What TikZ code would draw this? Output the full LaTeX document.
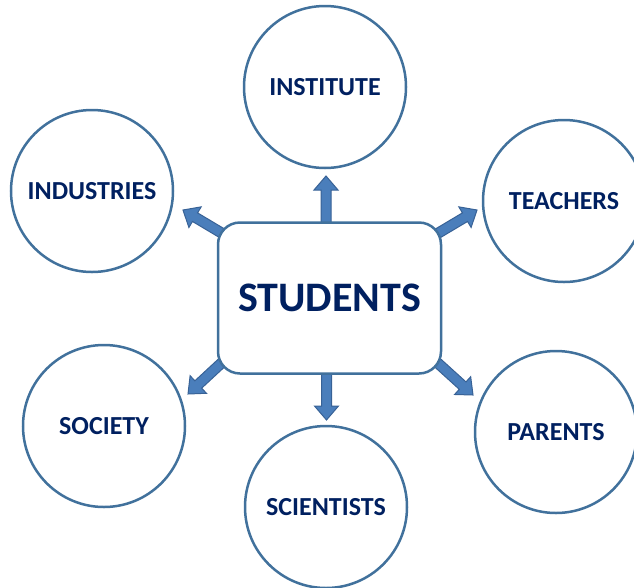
\documentclass[tikz,border=0pt]{standalone}
\usepackage{fontspec}
\setmainfont{Carlito}
\usetikzlibrary{calc,backgrounds}
\definecolor{edge}{RGB}{65,113,156}
\definecolor{ink}{RGB}{0,32,96}
\definecolor{arrfill}{RGB}{74,126,187}
\definecolor{arrline}{RGB}{56,98,150}
\tikzset{
  bubble/.style={circle, draw=edge, line width=2.5pt, fill=white, minimum size=162pt, inner sep=0pt,
    text=ink, font=\bfseries\fontsize{26}{30}\selectfont},
  hub/.style={rectangle, rounded corners=22pt, draw=edge, line width=2.5pt, fill=white,
    minimum width=223pt, minimum height=151pt, text=ink, font=\bfseries\fontsize{42}{46}\selectfont},
  blockarr/.style={draw=arrline, fill=arrfill, line width=1pt, line join=miter}
}
\newcommand\blockarrow[2]{%
  \coordinate (h) at ($(#2)!14pt!(#1)$);
  \draw[blockarr] ($(#1)!5pt!90:(#2)$) -- ($(h)!5pt!-90:(#1)$) -- ($(h)!12pt!-90:(#1)$) -- (#2)
    -- ($(h)!12pt!90:(#1)$) -- ($(h)!5pt!90:(#1)$) -- ($(#1)!5pt!-90:(#2)$) -- cycle;}
\begin{document}
\begin{tikzpicture}[x=1pt,y=-1pt]
\useasboundingbox (0,0) rectangle (634,587);
\clip (0,0) rectangle (634,587);
\node[hub] (stu) at (329.5,298) {STUDENTS};
\node[bubble] (inst) at (325,87) {INSTITUTE};
\node[bubble] (ind) at (92,191) {INDUSTRIES};
\node[bubble] (tea) at (564,201) {TEACHERS};
\node[bubble] (soc) at (104,426) {SOCIETY};
\node[bubble] (sci) at (326,507) {SCIENTISTS};
\node[bubble] (par) at (556,432) {PARENTS};
\coordinate (s1) at (326,232);
\coordinate (t1) at (326,176);
\coordinate (s2) at (326.5,364);
\coordinate (t2) at (326.5,420);
\coordinate (s3) at (230,238);
\coordinate (t3) at (183,210);
\coordinate (s4) at (430,238);
\coordinate (t4) at (477,210);
\coordinate (s5) at (229,356);
\coordinate (t5) at (188,394);
\coordinate (s6) at (430,356);
\coordinate (t6) at (473,395);
\begin{scope}[on background layer]
\blockarrow{s1}{t1}
\blockarrow{s2}{t2}
\blockarrow{s3}{t3}
\blockarrow{s4}{t4}
\blockarrow{s5}{t5}
\blockarrow{s6}{t6}
\end{scope}
\end{tikzpicture}
\end{document}
